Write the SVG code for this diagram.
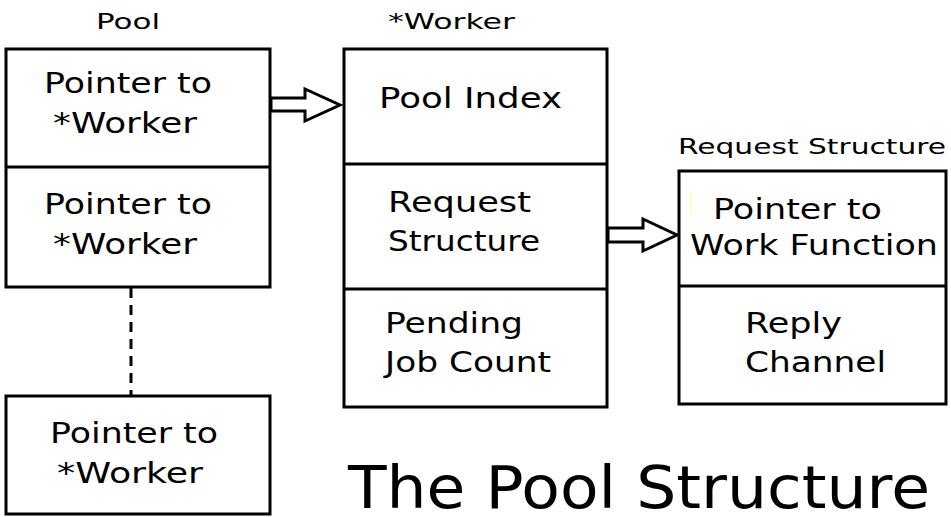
<svg xmlns="http://www.w3.org/2000/svg" width="951" height="517" viewBox="0 0 951 517">
<style>
.box{fill:#fff;stroke:#000;stroke-width:3}
.div{stroke:#000;stroke-width:3}
.t{font-family:"DejaVu Sans",Verdana,sans-serif;font-size:28px;fill:#000}
.s{font-family:"DejaVu Sans",Verdana,sans-serif;font-size:22px;fill:#000}
.arr{fill:#fff;stroke:#000;stroke-width:3;stroke-linejoin:miter}
</style>
<rect width="951" height="517" fill="#fff"/>
<text class="s" x="96" y="29" textLength="64" lengthAdjust="spacingAndGlyphs">Pool</text>
<text class="s" x="388" y="29" textLength="127" lengthAdjust="spacingAndGlyphs">*Worker</text>
<text class="s" x="678" y="154" textLength="268" lengthAdjust="spacingAndGlyphs">Request Structure</text>
<g id="pool">
<rect class="box" x="6" y="49" width="264" height="238"/>
<line class="div" x1="6" y1="167" x2="270" y2="167"/>
<text class="t" x="44" y="93" textLength="168" lengthAdjust="spacingAndGlyphs">Pointer to</text>
<text class="t" x="53" y="133" textLength="144" lengthAdjust="spacingAndGlyphs">*Worker</text>
<text class="t" x="44" y="214" textLength="168" lengthAdjust="spacingAndGlyphs">Pointer to</text>
<text class="t" x="53" y="254" textLength="144" lengthAdjust="spacingAndGlyphs">*Worker</text>
</g>
<g id="pool-last">
<rect class="box" x="6" y="396" width="264" height="118"/>
<text class="t" x="50" y="443" textLength="168" lengthAdjust="spacingAndGlyphs">Pointer to</text>
<text class="t" x="57" y="483" textLength="146" lengthAdjust="spacingAndGlyphs">*Worker</text>
</g>
<g id="worker">
<rect class="box" x="344" y="49" width="263" height="358"/>
<line class="div" x1="344" y1="164" x2="607" y2="164"/>
<line class="div" x1="344" y1="289" x2="607" y2="289"/>
<text class="t" x="379" y="108" textLength="183" lengthAdjust="spacingAndGlyphs">Pool Index</text>
<text class="t" x="388" y="212" textLength="143" lengthAdjust="spacingAndGlyphs">Request</text>
<text class="t" x="388" y="251" textLength="152" lengthAdjust="spacingAndGlyphs">Structure</text>
<text class="t" x="385" y="333" textLength="138" lengthAdjust="spacingAndGlyphs">Pending</text>
<text class="t" x="385" y="372" textLength="166" lengthAdjust="spacingAndGlyphs">Job Count</text>
</g>
<g id="request">
<rect class="box" x="679" y="171" width="267" height="233"/>
<line class="div" x1="679" y1="286" x2="946" y2="286"/>
<line x1="691" y1="192" x2="691" y2="214" stroke="#ffffc0" stroke-width="2"/>
<text class="t" x="713" y="219" textLength="169" lengthAdjust="spacingAndGlyphs">Pointer to</text>
<text class="t" x="690" y="255" textLength="248" lengthAdjust="spacingAndGlyphs">Work Function</text>
<text class="t" x="745" y="333" textLength="97" lengthAdjust="spacingAndGlyphs">Reply</text>
<text class="t" x="745" y="372" textLength="141" lengthAdjust="spacingAndGlyphs">Channel</text>
</g>
<g id="connectors">
<line x1="131" y1="288" x2="131" y2="395" stroke="#000" stroke-width="3" stroke-dasharray="10,7"/>
<polygon class="arr" points="271,98 305,98 305,89 340,105 305,121 305,111 271,111"/>
<polygon class="arr" points="608,228 643,228 643,219 677,235 643,251 643,242 608,242"/>
</g>
<text x="348" y="508" font-family="DejaVu Sans,Verdana,sans-serif" font-size="58" textLength="582" lengthAdjust="spacingAndGlyphs" fill="#000">The Pool Structure</text>
</svg>
